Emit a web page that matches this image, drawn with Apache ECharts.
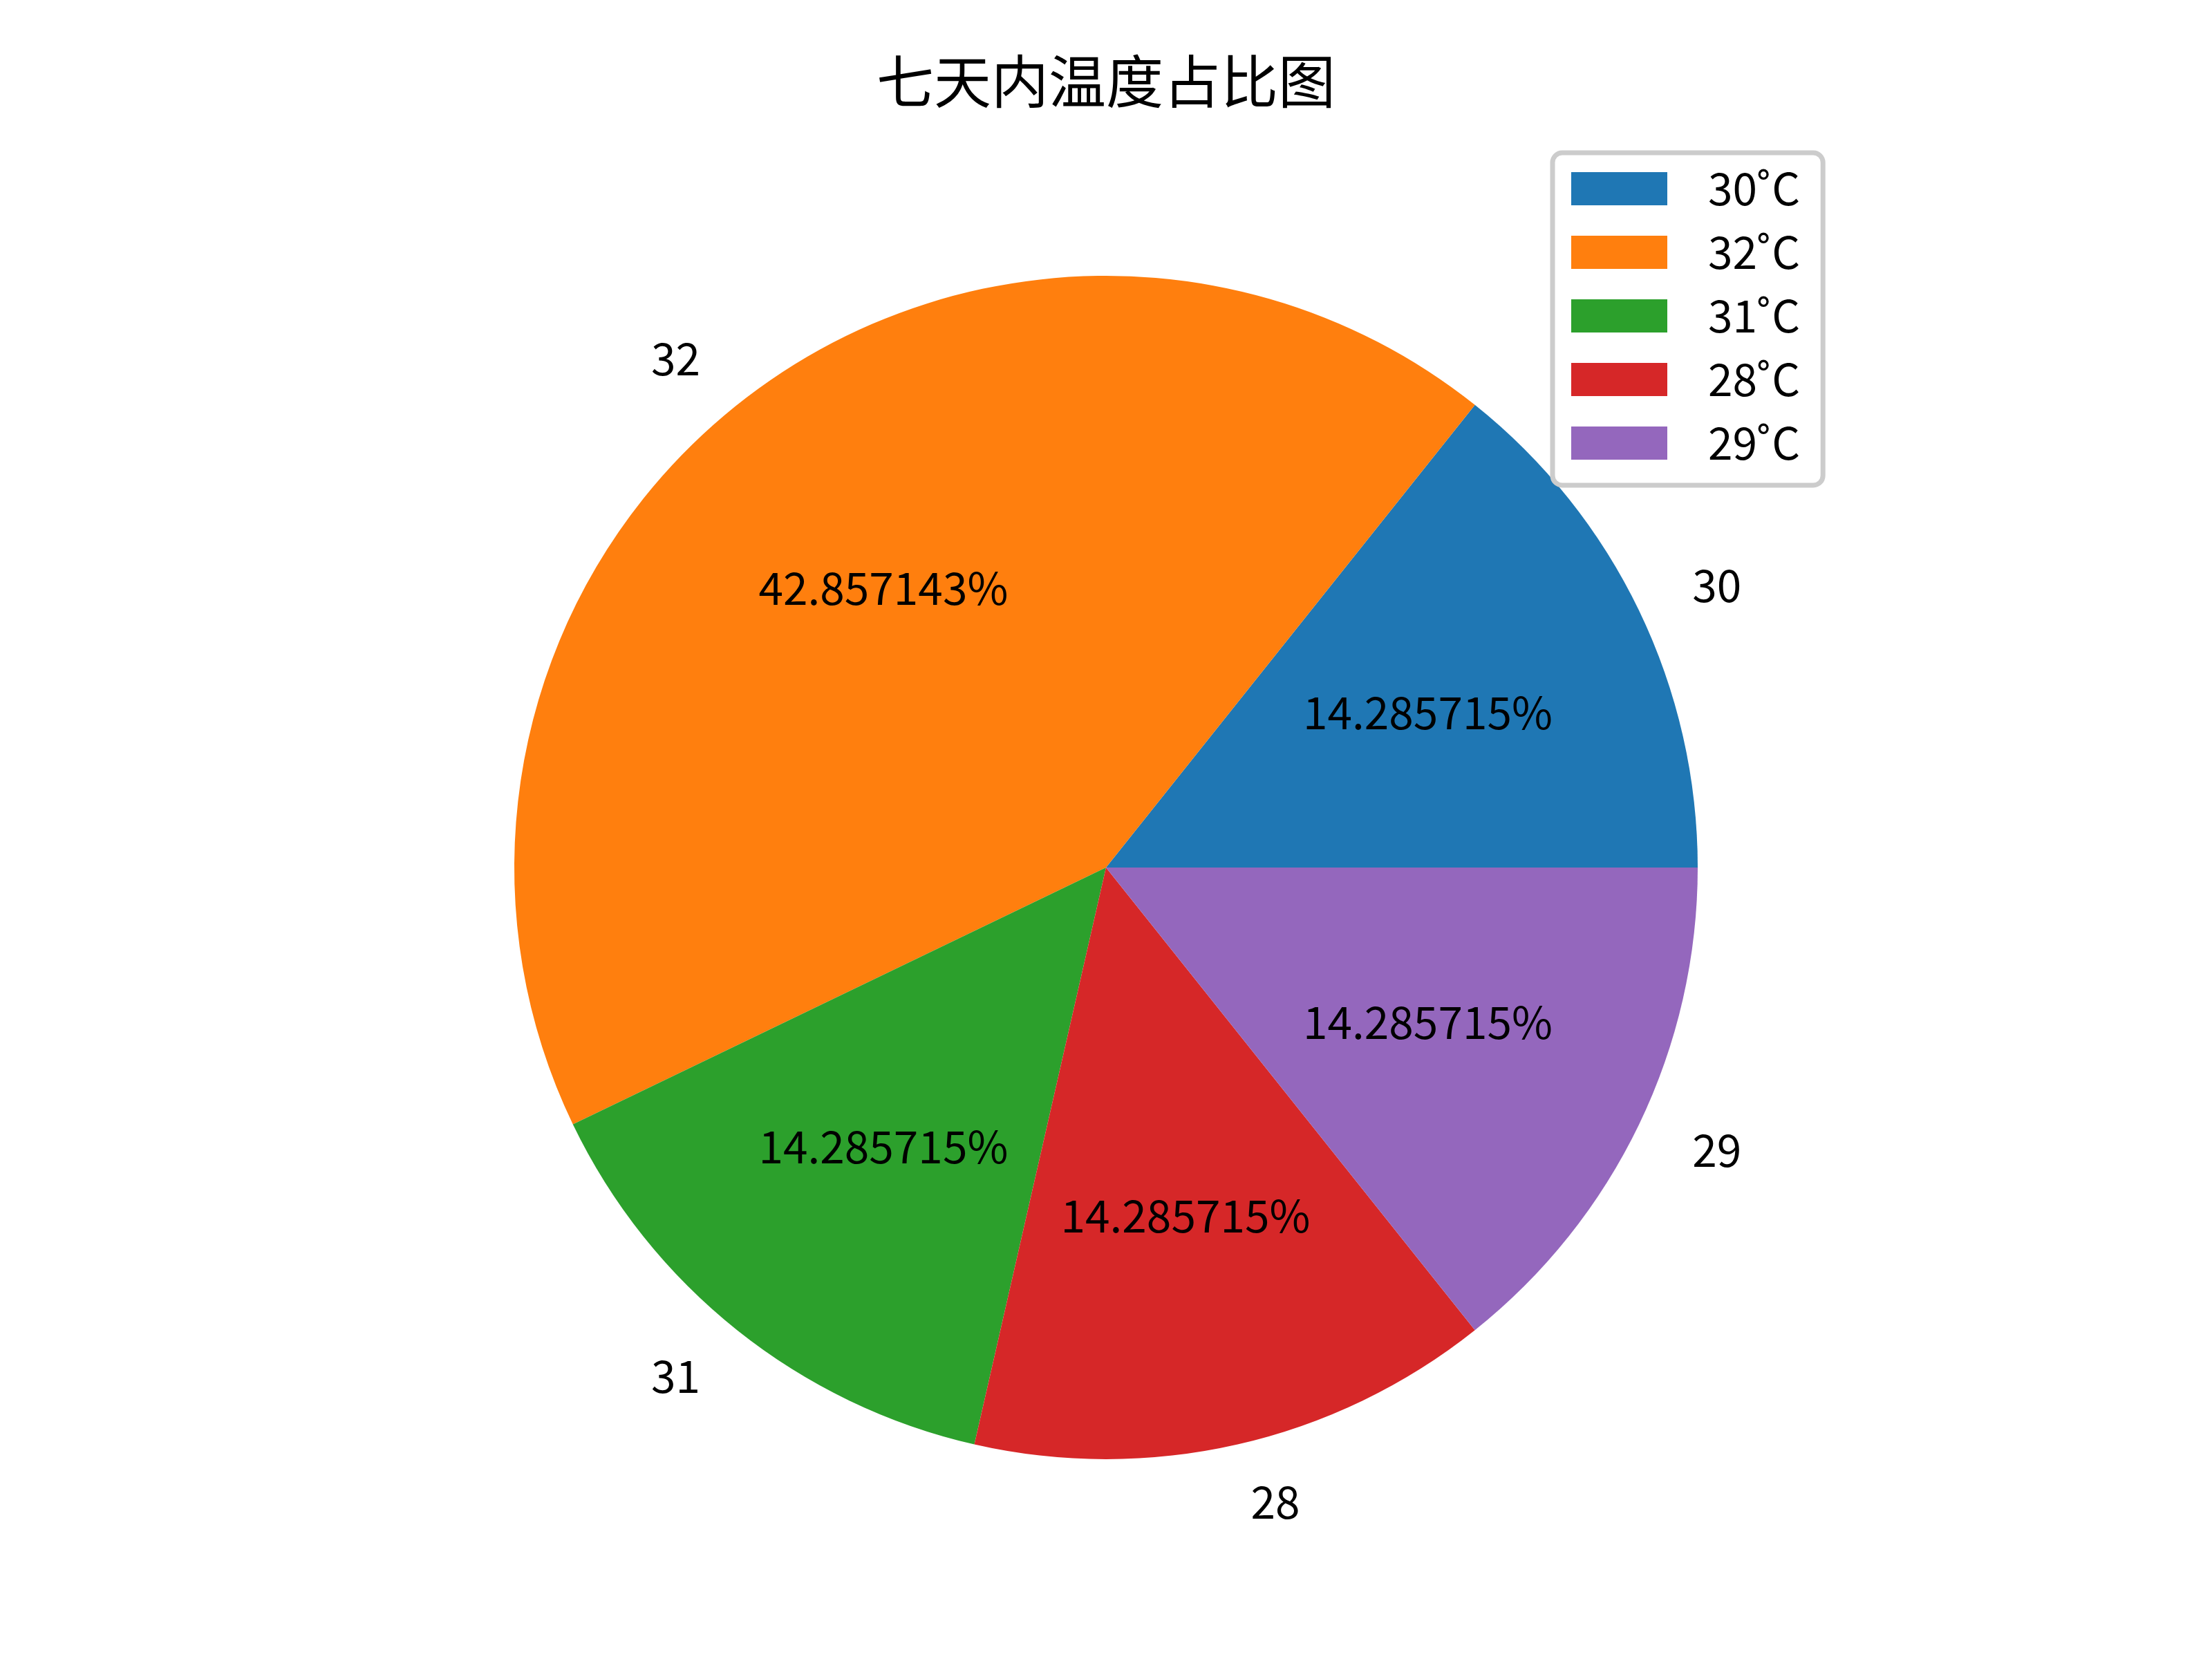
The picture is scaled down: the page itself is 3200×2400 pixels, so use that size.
<!DOCTYPE html>
<html>
<head>
<meta charset="utf-8">
<script src="https://cdn.jsdelivr.net/npm/echarts@6/dist/echarts.min.js"></script>
<style>
html,body{margin:0;padding:0;background:#fff;}
#chart{width:3200px;height:2400px;}
</style>
</head>
<body>
<div id="chart"></div>
<script>
const titleText = '七天内温度占比图';
const temps = ['30', '32', '31', '28', '29'];
const legendNames = ['30˚C', '32˚C', '31˚C', '28˚C', '29˚C'];
const counts = [1, 3, 1, 1, 1];
const pctLabels = ['14.285715%', '42.857143%', '14.285715%', '14.285715%', '14.285715%'];
const colors = ['#1f77b4', '#ff7f0e', '#2ca02c', '#d62728', '#9467bd'];

const R = 856;
const CX = 1600, CY = 1255;
const numFont = '"Noto Sans CJK SC", sans-serif';

const mainData = counts.map((v, i) => ({ name: legendNames[i], value: v, itemStyle: { color: colors[i] } }));
const pctData = counts.map((v, i) => ({ name: legendNames[i], value: v }));

const chart = echarts.init(document.getElementById('chart'), null, { renderer: 'canvas' });
chart.setOption({
  animation: false,
  backgroundColor: '#ffffff',
  color: colors,
  title: {
    text: titleText,
    left: 'center',
    top: 76,
    padding: 0,
    textStyle: { fontFamily: '"Noto Sans CJK SC", sans-serif', fontSize: 83, fontWeight: 'normal', color: '#000', lineHeight: 83 }
  },
  legend: {
    data: legendNames,
    orient: 'vertical',
    left: 2246,
    top: 221,
    padding: [20, 33, 29, 27],
    itemWidth: 139,
    itemHeight: 48,
    itemGap: 28,
    icon: 'rect',
    backgroundColor: '#ffffff',
    borderColor: '#cccccc',
    borderWidth: 7,
    borderRadius: 14,
    selectedMode: false,
    textStyle: { fontFamily: numFont, fontSize: 64, color: '#000', lineHeight: 48, height: 48, padding: [0, 0, 0, 54] }
  },
  series: [
    {
      type: 'pie',
      name: 'main',
      center: [CX, CY],
      radius: [0, R],
      startAngle: 0,
      clockwise: false,
      avoidLabelOverlap: false,
      silent: true,
      itemStyle: { borderWidth: 0 },
      label: {
        show: true,
        position: 'outside',
        distanceToLabelLine: 0,
        fontFamily: numFont,
        fontSize: 64,
        color: '#000',
        formatter: p => temps[p.dataIndex]
      },
      labelLine: { show: false, length: R * 0.1, length2: 0 },
      emphasis: { disabled: true },
      data: mainData
    },
    {
      type: 'pie',
      name: 'pct',
      center: [CX, CY],
      radius: [0, R * 1.2],
      startAngle: 0,
      clockwise: false,
      avoidLabelOverlap: false,
      silent: true,
      z: 5,
      itemStyle: { color: 'rgba(0,0,0,0)', borderWidth: 0 },
      label: {
        show: true,
        position: 'inside',
        fontFamily: numFont,
        fontSize: 64,
        color: '#000',
        formatter: p => pctLabels[p.dataIndex]
      },
      labelLine: { show: false },
      emphasis: { disabled: true },
      data: pctData
    }
  ]
});
</script>
</body>
</html>
